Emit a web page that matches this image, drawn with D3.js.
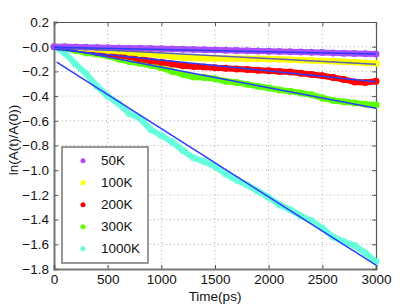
<!DOCTYPE html>
<html>
<head>
<meta charset="utf-8">
<script src="https://cdn.jsdelivr.net/npm/d3@7"></script>
<style>
  body { margin: 0; background: #fff; }
  svg { font-family: "Liberation Sans", Arial, sans-serif; }
  .grid line { stroke: #b0b0b0; stroke-dasharray: 1,3; }
</style>
</head>
<body>
<div id="vis"></div>
<script>
// Frame
const FRAME_WIDTH = 415;
const FRAME_HEIGHT = 305;
const MARGINS = {left: 54, right: 39, top: 22, bottom: 36};
const VIS_WIDTH = FRAME_WIDTH - MARGINS.left - MARGINS.right;
const VIS_HEIGHT = FRAME_HEIGHT - MARGINS.top - MARGINS.bottom;

// Data (every 100 ps)
const times = [0,100,200,300,400,500,600,700,800,900,1000,1100,1200,1300,1400,1500,
               1600,1700,1800,1900,2000,2100,2200,2300,2400,2500,2600,2700,2800,2900,3000];

const k50 = [0.0,0.0,-0.002,-0.005,-0.006,-0.008,-0.01,-0.012,-0.013,-0.015,-0.017,-0.018,-0.02,-0.022,-0.024,-0.026,
             -0.028,-0.03,-0.033,-0.035,-0.037,-0.039,-0.041,-0.043,-0.045,-0.047,-0.05,-0.053,-0.055,-0.058,-0.06];
const k100 = [0.0,-0.005,-0.01,-0.015,-0.02,-0.03,-0.035,-0.045,-0.055,-0.06,-0.07,-0.08,-0.09,-0.092,-0.093,-0.095,
              -0.095,-0.096,-0.097,-0.098,-0.1,-0.102,-0.105,-0.108,-0.112,-0.115,-0.118,-0.122,-0.126,-0.13,-0.135];
const k200 = [0.0,-0.005,-0.015,-0.03,-0.045,-0.055,-0.07,-0.08,-0.1,-0.115,-0.125,-0.14,-0.155,-0.16,-0.165,-0.17,
              -0.175,-0.18,-0.185,-0.19,-0.195,-0.2,-0.205,-0.215,-0.225,-0.235,-0.25,-0.265,-0.285,-0.29,-0.28];
const k300 = [0.0,-0.01,-0.03,-0.05,-0.06,-0.075,-0.1,-0.12,-0.135,-0.15,-0.17,-0.2,-0.225,-0.245,-0.25,-0.26,
              -0.28,-0.29,-0.305,-0.32,-0.335,-0.35,-0.36,-0.375,-0.39,-0.415,-0.435,-0.445,-0.455,-0.465,-0.472];
const k1000 = [0.0,-0.05,-0.14,-0.22,-0.32,-0.40,-0.46,-0.54,-0.58,-0.67,-0.72,-0.77,-0.84,-0.90,-0.93,-0.97,
               -1.03,-1.08,-1.12,-1.17,-1.22,-1.28,-1.32,-1.37,-1.41,-1.47,-1.54,-1.58,-1.61,-1.67,-1.74];

const labels = ["50K", "100K", "200K", "300K", "1000K"];
const colors = ["#a84dff", "#ffff00", "#ff0000", "#5cff00", "#66ffdd"];
const fitColors = ["#2a3cff", "#5865b0", "#2a3cff", "#2a3cff", "#2a3cff"];

// linear fits: start time, value at start, value at 3000 ps
const fitT0 = [0, 0, 0, 0, 25];
const fitV0 = [-0.005, -0.005, -0.02, 0.0, -0.124];
const fitV1 = [-0.059, -0.143, -0.284, -0.498, -1.768];

const xTicks = [0, 500, 1000, 1500, 2000, 2500, 3000];
const yTicks = [0.2, 0, -0.2, -0.4, -0.6, -0.8, -1.0, -1.2, -1.4, -1.6, -1.8];

const series = [k50, k100, k200, k300, k1000];

const svg = d3.select("#vis").append("svg")
  .attr("width", FRAME_WIDTH)
  .attr("height", FRAME_HEIGHT);

const X_SCALE = d3.scaleLinear().domain([0, 3000]).range([0, VIS_WIDTH]);
const Y_SCALE = d3.scaleLinear().domain([-1.8, 0.2]).range([VIS_HEIGHT, 0]);

const g = svg.append("g")
  .attr("transform", "translate(" + MARGINS.left + "," + MARGINS.top + ")");

// gridlines
g.append("g").attr("class", "grid")
  .selectAll("line").data(xTicks.slice(1, -1)).enter().append("line")
    .attr("x1", d => X_SCALE(d)).attr("x2", d => X_SCALE(d))
    .attr("y1", 0).attr("y2", VIS_HEIGHT);
g.append("g").attr("class", "grid")
  .selectAll("line").data(yTicks.slice(1, -1)).enter().append("line")
    .attr("x1", 0).attr("x2", VIS_WIDTH)
    .attr("y1", d => Y_SCALE(d)).attr("y2", d => Y_SCALE(d));

const fmtY = d => (d > 0 ? d3.format(".1f")(d) : "\u2212" + d3.format(".1f")(Math.abs(d)));

// axes (ticks inward, box on all sides)
const axisLeft = g.append("g")
  .call(d3.axisLeft(Y_SCALE).tickValues(yTicks).tickSize(-4).tickPadding(5).tickFormat(fmtY));
const axisBottom = g.append("g")
  .attr("transform", "translate(0," + VIS_HEIGHT + ")")
  .call(d3.axisBottom(X_SCALE).tickValues(xTicks).tickSize(-4).tickPadding(5).tickFormat(d3.format("d")));
const axisRight = g.append("g")
  .attr("transform", "translate(" + VIS_WIDTH + ",0)")
  .call(d3.axisRight(Y_SCALE).tickValues(yTicks).tickSize(-4).tickFormat(""));
const axisTop = g.append("g")
  .call(d3.axisTop(X_SCALE).tickValues(xTicks).tickSize(-4).tickFormat(""));

[axisLeft, axisBottom, axisRight, axisTop].forEach(a => {
  a.select(".domain").attr("stroke", "#555").attr("stroke-width", 1.2);
  a.selectAll(".tick line").attr("stroke", "#555");
  a.selectAll("text").attr("font-size", "13.5px").attr("fill", "#111")
    .style("font-family", "'Liberation Sans', Arial, sans-serif");
});
axisLeft.select(".domain").attr("stroke", "#777").attr("stroke-width", 2);
axisBottom.select(".domain").attr("stroke", "#777").attr("stroke-width", 2);

// data bands (drawn as dense markers with a thick trace)
const line = d3.line().x(d => X_SCALE(d[0])).y(d => Y_SCALE(d[1]));
const order = [4, 3, 2, 1, 0];
order.forEach(i => {
  const pts = times.map((t, j) => [t, series[i][j]]);
  g.append("path")
    .datum(pts)
    .attr("d", line)
    .attr("fill", "none")
    .attr("stroke", colors[i])
    .attr("stroke-width", 6)
    .attr("stroke-linejoin", "round")
    .attr("stroke-linecap", "round");
  g.selectAll(".pt" + i)
    .data(pts).enter().append("circle")
      .attr("class", "pt" + i)
      .attr("cx", d => X_SCALE(d[0]))
      .attr("cy", d => Y_SCALE(d[1]))
      .attr("r", 3.5)
      .attr("fill", colors[i]);
});

// fit lines
order.forEach(i => {
  g.append("line")
    .attr("x1", X_SCALE(fitT0[i])).attr("y1", Y_SCALE(fitV0[i]))
    .attr("x2", X_SCALE(3000)).attr("y2", Y_SCALE(fitV1[i]))
    .attr("stroke", fitColors[i])
    .attr("stroke-width", 1.5);
});

// legend
const LEG = {x: 62, y: 147, w: 86, h: 116};
const legend = svg.append("g");
legend.append("rect")
  .attr("x", LEG.x).attr("y", LEG.y)
  .attr("width", LEG.w).attr("height", LEG.h)
  .attr("fill", "#fff").attr("stroke", "#777").attr("stroke-width", 1.5);
labels.forEach((lab, i) => {
  const cy = 160.7 + i * 22;
  legend.append("circle").attr("cx", 83).attr("cy", cy).attr("r", 2.5).attr("fill", colors[i]);
  legend.append("text").attr("x", 101).attr("y", cy + 4.7)
    .attr("font-size", "13.5px").attr("fill", "#111").text(lab);
});

// axis titles
svg.append("text")
  .attr("x", MARGINS.left + VIS_WIDTH / 2).attr("y", 301)
  .attr("text-anchor", "middle").attr("font-size", "13.5px").attr("fill", "#111")
  .text("Time(ps)");
svg.append("text")
  .attr("transform", "translate(18,140) rotate(-90)")
  .attr("text-anchor", "middle").attr("font-size", "13.5px").attr("fill", "#111")
  .text("ln(A(t)/A(0))");
</script>
</body>
</html>
